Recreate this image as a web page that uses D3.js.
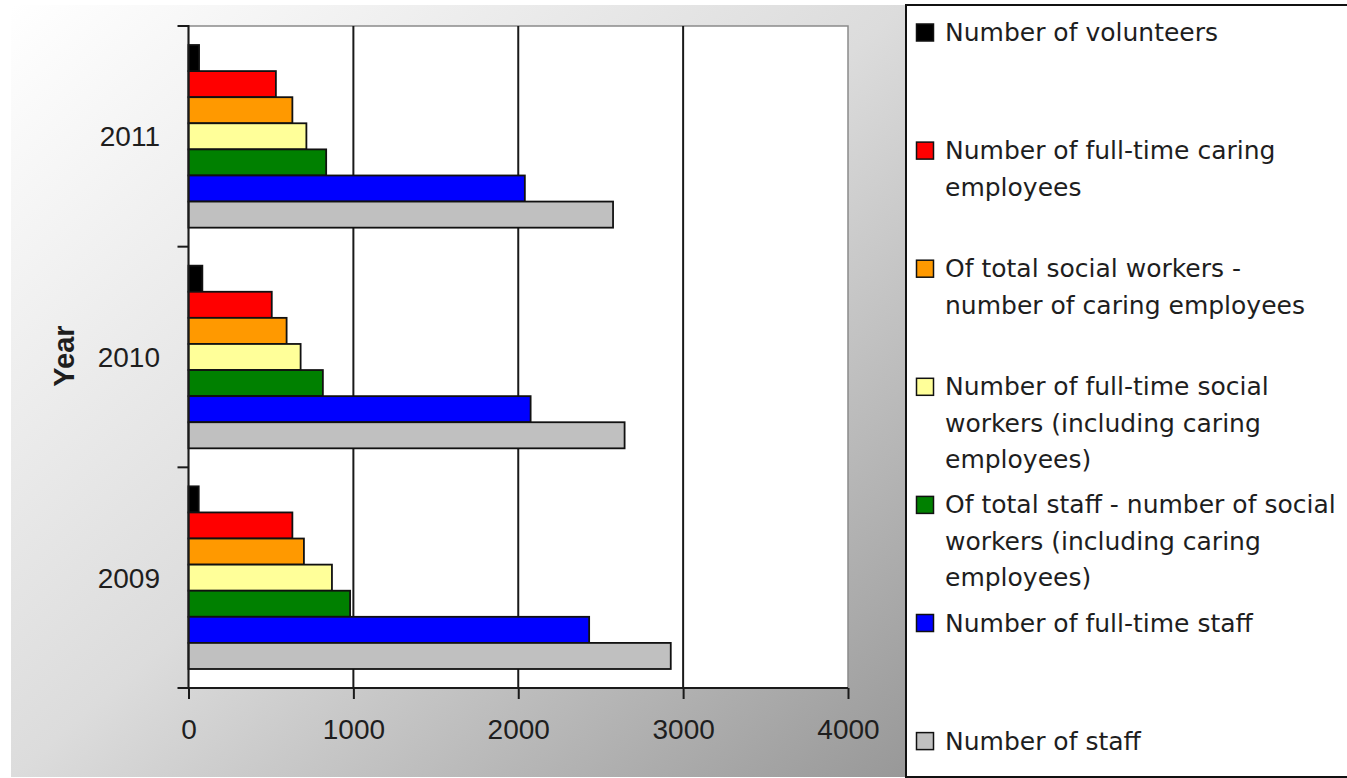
<!DOCTYPE html>
<html>
<head>
<meta charset="utf-8">
<script src="https://cdn.jsdelivr.net/npm/d3@7"></script>
<style>
  html, body { margin: 0; padding: 0; background: #ffffff; }
  svg { display: block; }
</style>
</head>
<body>
<svg id="chart" width="1347" height="778"></svg>
<script>
// Staff figures by year
const years = ["2009", "2010", "2011"];
const volunteers      = [62, 84, 64];
const caringFullTime  = [630, 505, 530];
const socialCaring    = [700, 595, 630];
const socialFullTime  = [870, 680, 715];
const staffSocial     = [980, 815, 835];
const staffFullTime   = [2430, 2075, 2040];
const staffTotal      = [2925, 2645, 2575];
const xTicks = [0, 1000, 2000, 3000, 4000];

const seriesNames = [
  "Number of volunteers",
  "Number of full-time caring employees",
  "Of total social workers - number of caring employees",
  "Number of full-time social workers (including caring employees)",
  "Of total staff - number of social workers (including caring employees)",
  "Number of full-time staff",
  "Number of staff"
];
const legendLines = [
  ["Number of volunteers"],
  ["Number of full-time caring", "employees"],
  ["Of total social workers -", "number of caring employees"],
  ["Number of full-time social", "workers (including caring", "employees)"],
  ["Of total staff - number of social", "workers (including caring", "employees)"],
  ["Number of full-time staff"],
  ["Number of staff"]
];
const seriesColors = ["#000000", "#ff0000", "#ff9900", "#ffff99", "#008000", "#0000ff", "#c0c0c0"];
const seriesValues = [volunteers, caringFullTime, socialCaring, socialFullTime, staffSocial, staffFullTime, staffTotal];

const svg = d3.select("#chart");

// Chart area background gradient
const defs = svg.append("defs");
const grad = defs.append("linearGradient").attr("id", "bg")
  .attr("x1", 0).attr("y1", 0).attr("x2", 1).attr("y2", 1);
grad.append("stop").attr("offset", "0%").attr("stop-color", "#ffffff");
grad.append("stop").attr("offset", "50%").attr("stop-color", "#dcdcdc");
grad.append("stop").attr("offset", "100%").attr("stop-color", "#989898");
svg.append("rect").attr("x", 11).attr("y", 5).attr("width", 895).attr("height", 772)
  .attr("fill", "url(#bg)");

// Plot area
const plot = { left: 188.5, right: 848, top: 26, bottom: 688 };
const x = d3.scaleLinear().domain([0, 4000]).range([plot.left, plot.right]);
const y = d3.scaleBand().domain(years.slice().reverse()).range([plot.top, plot.bottom]);
const inner = d3.scaleBand().domain(d3.range(seriesNames.length))
  .range([19, y.bandwidth() - 19]);

svg.append("rect")
  .attr("x", plot.left).attr("y", plot.top)
  .attr("width", plot.right - plot.left).attr("height", plot.bottom - plot.top)
  .attr("fill", "#ffffff").attr("stroke", "#8a8a8a").attr("stroke-width", 1.5);

// Vertical gridlines
svg.append("g").selectAll("line")
  .data(xTicks.filter(t => t > 0 && t < 4000))
  .join("line")
  .attr("x1", d => x(d)).attr("x2", d => x(d))
  .attr("y1", plot.top).attr("y2", plot.bottom)
  .attr("stroke", "#1a1a1a").attr("stroke-width", 2);

// Bars
const rows = [];
years.forEach((yr, i) => {
  seriesValues.forEach((vals, s) => rows.push({ year: yr, s, v: vals[i] }));
});
svg.append("g").selectAll("rect")
  .data(rows)
  .join("rect")
  .attr("x", x(0))
  .attr("y", d => y(d.year) + inner(d.s))
  .attr("width", d => x(d.v) - x(0))
  .attr("height", inner.bandwidth())
  .attr("fill", d => seriesColors[d.s])
  .attr("stroke", "#111111").attr("stroke-width", 1.8);

// Bottom axis
const xAxis = d3.axisBottom(x).tickValues(xTicks).tickFormat(d3.format("d"))
  .tickSize(11).tickSizeOuter(0).tickPadding(20);
const gx = svg.append("g").attr("transform", `translate(0,${plot.bottom})`).call(xAxis);
gx.select(".domain").remove();
gx.append("line").attr("x1", plot.left - 11).attr("x2", plot.right)
  .attr("stroke", "#1a1a1a").attr("stroke-width", 2);
gx.selectAll(".tick line").attr("stroke", "#1a1a1a").attr("stroke-width", 2);
gx.selectAll(".tick text")
  .attr("font-family", "'Liberation Sans', Arial, sans-serif")
  .attr("font-size", 28).attr("fill", "#1e1e1e");

// Left axis: category labels and boundary ticks
const gy = svg.append("g");
gy.append("line").attr("x1", plot.left).attr("x2", plot.left)
  .attr("y1", plot.top - 1).attr("y2", plot.bottom)
  .attr("stroke", "#1a1a1a").attr("stroke-width", 2);
const bounds = y.domain().map(d => y(d));
gy.selectAll("line.b").data(bounds).join("line").attr("class", "b")
  .attr("x1", plot.left - 11).attr("x2", plot.left)
  .attr("y1", d => d).attr("y2", d => d)
  .attr("stroke", "#1a1a1a").attr("stroke-width", 2);
gy.selectAll("text").data(y.domain()).join("text")
  .attr("x", 160).attr("y", d => y(d) + y.bandwidth() / 2)
  .attr("dy", "0.36em").attr("text-anchor", "end")
  .attr("font-family", "'Liberation Sans', Arial, sans-serif")
  .attr("font-size", 28).attr("fill", "#1e1e1e")
  .text(d => d);

// Axis title
svg.append("text")
  .attr("transform", "translate(74,356) rotate(-90)")
  .attr("text-anchor", "middle")
  .attr("font-family", "'Liberation Sans', Arial, sans-serif")
  .attr("font-weight", "bold").attr("font-size", 29).attr("fill", "#1e1e1e")
  .text("Year");

// Legend
const lg = svg.append("g");
lg.append("rect").attr("x", 906).attr("y", 5).attr("width", 470).attr("height", 772)
  .attr("fill", "#ffffff").attr("stroke", "#111111").attr("stroke-width", 2);
const baseY = 41, step = 118.1, lineH = 36.5;
const items = lg.selectAll("g.item").data(seriesNames).join("g").attr("class", "item")
  .attr("transform", (d, i) => `translate(0,${baseY + i * step})`);
items.append("rect").attr("x", 916.5).attr("y", -17).attr("width", 17).attr("height", 17)
  .attr("fill", (d, i) => seriesColors[i]).attr("stroke", "#111111").attr("stroke-width", 1.5);
items.append("text")
  .attr("x", 945).attr("y", 0)
  .attr("font-family", "'DejaVu Sans', Verdana, sans-serif")
  .attr("font-size", 25).attr("fill", "#1e1e1e")
  .selectAll("tspan").data((d, i) => legendLines[i]).join("tspan")
  .attr("x", 945).attr("dy", (d, j) => j === 0 ? 0 : lineH)
  .text(d => d);
</script>
</body>
</html>
